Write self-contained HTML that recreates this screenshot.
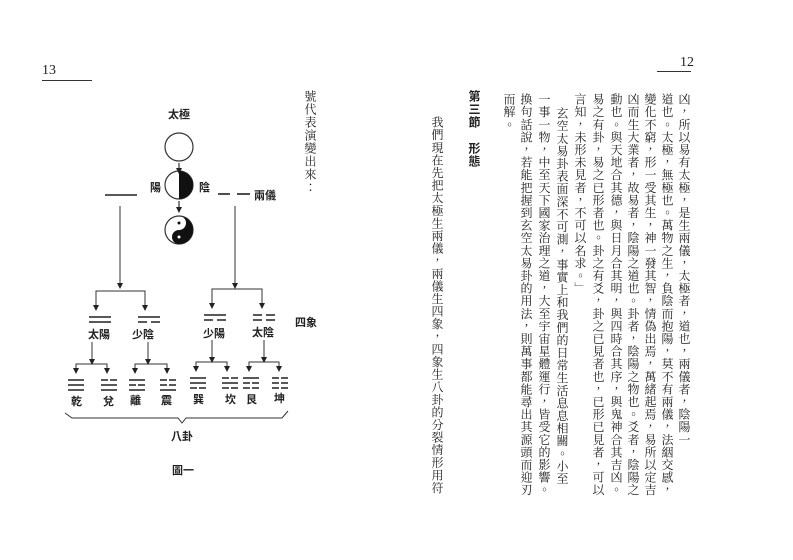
<!DOCTYPE html>
<html><head><meta charset="utf-8"><style>
body{margin:0;width:793px;height:560px;background:#fff;position:relative;overflow:hidden;font-family:"Liberation Serif","Noto Serif CJK TC","Noto Sans CJK TC",serif;color:#222}
.c{position:absolute;writing-mode:vertical-rl;font-size:12px;letter-spacing:0.6px;line-height:14px;white-space:nowrap}
.t{font-family:"Liberation Sans","Noto Sans CJK TC",sans-serif;font-weight:bold;font-size:11px}
</style></head><body>
<div style="position:absolute;left:42px;top:63px;font-size:14px">13</div>
<div style="position:absolute;left:42px;top:80px;width:50px;border-top:1px solid #333"></div>
<div style="position:absolute;left:680px;top:55px;font-size:14px">12</div>
<div style="position:absolute;left:657px;top:71px;width:34px;border-top:1px solid #333"></div>

<div class="c" style="left:303px;top:90px;font-size:12px;letter-spacing:1px">號代表演變出來：</div>

<div class="c" style="left:677px;top:93px">凶，所以易有太極，是生兩儀，太極者，道也，兩儀者，陰陽一</div>
<div class="c" style="left:660px;top:93px">道也。太極，無極也。萬物之生，負陰而抱陽，莫不有兩儀，法絪交感，</div>
<div class="c" style="left:643px;top:93px">變化不窮，形一受其生，神一發其智，情偽出焉，萬緒起焉，易所以定吉</div>
<div class="c" style="left:626px;top:93px">凶而生大業者，故易者，陰陽之道也。卦者，陰陽之物也。爻者，陰陽之</div>
<div class="c" style="left:609px;top:93px">動也。與天地合其德，與日月合其明，與四時合其序，與鬼神合其吉凶。</div>
<div class="c" style="left:591px;top:93px">易之有卦，易之已形者也。卦之有爻，卦之已見者也，已形已見者，可以</div>
<div class="c" style="left:573px;top:93px">言知，未形未見者，不可以名求。」</div>
<div class="c" style="left:555px;top:107px">玄空太易卦表面深不可測，事實上和我們的日常生活息息相關。小至</div>
<div class="c" style="left:537px;top:93px">一事一物，中至天下國家治理之道，大至宇宙星體運行，皆受它的影響。</div>
<div class="c" style="left:519px;top:93px">換句話說，若能把握到玄空太易卦的用法，則萬事都能尋出其源頭而迎刃</div>
<div class="c" style="left:502px;top:93px">而解。</div>
<div class="c" style="left:467px;top:90px;font-weight:bold;font-family:'Liberation Sans','Noto Sans CJK TC',sans-serif;letter-spacing:1px">第三節　形態</div>
<div class="c" style="left:430px;top:116px">我們現在先把太極生兩儀，兩儀生四象，四象生八卦的分裂情形用符</div>

<svg width="793" height="560" style="position:absolute;left:0;top:0" xmlns="http://www.w3.org/2000/svg">
<defs><marker id="a" markerWidth="6" markerHeight="6" refX="3" refY="5" orient="0" markerUnits="userSpaceOnUse"><path d="M0,0 L6,0 L3,6 z" fill="#222"/></marker></defs>
<g stroke="#333" fill="none" stroke-width="1.2">
<circle cx="179" cy="147" r="14"/>
<line x1="179" y1="163" x2="179" y2="173" marker-end="url(#a)"/>
<circle cx="179" cy="185" r="14"/>
<line x1="179" y1="201" x2="179" y2="212" marker-end="url(#a)"/>
<circle cx="179" cy="230" r="14"/>
</g>
<path d="M179,171 A14,14 0 0 1 179,199 Z" fill="#111"/>
<path d="M179,216 A14,14 0 0 1 179,244 A7,7 0 0 1 179,230 A7,7 0 0 0 179,216 Z" fill="#111"/>
<circle cx="179" cy="223" r="1.5" fill="#111"/><circle cx="179" cy="237" r="1.5" fill="#fff"/>
<g stroke="#222" stroke-width="1.6" fill="none">
<line x1="105" y1="195" x2="137" y2="195"/>
<line x1="218" y1="194" x2="230" y2="194"/><line x1="237" y1="194" x2="250" y2="194"/>
</g>
<g stroke="#333" stroke-width="1" fill="none">
<line x1="120" y1="206" x2="120" y2="288" marker-end="url(#a)"/>
<line x1="235" y1="206" x2="235" y2="288" marker-end="url(#a)"/>
<path d="M96,310 V291 H145 V310"/><line x1="96" y1="305" x2="96" y2="310" marker-end="url(#a)"/><line x1="145" y1="305" x2="145" y2="310" marker-end="url(#a)"/>
<path d="M212,308 V289 H262 V308"/><line x1="212" y1="303" x2="212" y2="308" marker-end="url(#a)"/><line x1="262" y1="303" x2="262" y2="308" marker-end="url(#a)"/>
<line x1="92" y1="342" x2="92" y2="364" marker-end="url(#a)"/><path d="M76,371 V364 H107 V371"/>
<line x1="148" y1="342" x2="148" y2="364" marker-end="url(#a)"/><path d="M135,371 V364 H167 V371"/>
<line x1="212" y1="340" x2="212" y2="362" marker-end="url(#a)"/><path d="M196,369 V362 H227 V369"/>
<line x1="264" y1="340" x2="264" y2="362" marker-end="url(#a)"/><path d="M249,369 V362 H279 V369"/>
<line x1="76" y1="367" x2="76" y2="373" marker-end="url(#a)"/><line x1="107" y1="367" x2="107" y2="373" marker-end="url(#a)"/>
<line x1="135" y1="367" x2="135" y2="373" marker-end="url(#a)"/><line x1="167" y1="367" x2="167" y2="373" marker-end="url(#a)"/>
<line x1="196" y1="365" x2="196" y2="371" marker-end="url(#a)"/><line x1="227" y1="365" x2="227" y2="371" marker-end="url(#a)"/>
<line x1="249" y1="365" x2="249" y2="371" marker-end="url(#a)"/><line x1="279" y1="365" x2="279" y2="371" marker-end="url(#a)"/>
<path d="M65,413 L72,418 H178 L182,423 L186,418 H282 L288,411"/>
</g>
<g stroke="#222" stroke-width="1.6">
<path d="M89,317h22M89,322h22"/>
<path d="M138,317h22M138,322h9M151,322h9"/>
<path d="M204,315h22M204,320h9M217,320h9"/>
<path d="M253,315h9M266,315h9M253,320h9M266,320h9"/>
<path d="M68,380h16M68,385h16M68,390h16"/>
<path d="M101,380h7M110,380h7M101,385h16M101,390h16"/>
<path d="M129,380h16M129,385h7M138,385h7M129,390h16"/>
<path d="M160,380h7M169,380h7M160,385h7M169,385h7M160,390h16"/>
<path d="M190,378h16M190,383h16M190,388h7M199,388h7"/>
<path d="M222,378h7M231,378h7M222,383h16M222,388h7M231,388h7"/>
<path d="M243,378h16M243,383h7M252,383h7M243,388h7M252,388h7"/>
<path d="M272,378h7M281,378h7M272,383h7M281,383h7M272,388h7M281,388h7"/>
</g>
</svg>
<div class="t" style="position:absolute;left:168px;top:106px">太極</div>
<div class="t" style="position:absolute;left:150px;top:179px">陽</div>
<div class="t" style="position:absolute;left:199px;top:179px">陰</div>
<div class="t" style="position:absolute;left:254px;top:187px">兩儀</div>
<div class="t" style="position:absolute;left:88px;top:326px">太陽</div>
<div class="t" style="position:absolute;left:132px;top:326px">少陰</div>
<div class="t" style="position:absolute;left:203px;top:325px">少陽</div>
<div class="t" style="position:absolute;left:252px;top:324px">太陰</div>
<div class="t" style="position:absolute;left:295px;top:314px">四象</div>
<div class="t" style="position:absolute;left:71px;top:393px">乾</div>
<div class="t" style="position:absolute;left:103px;top:393px">兌</div>
<div class="t" style="position:absolute;left:130px;top:392px">離</div>
<div class="t" style="position:absolute;left:161px;top:392px">震</div>
<div class="t" style="position:absolute;left:193px;top:391px">巽</div>
<div class="t" style="position:absolute;left:225px;top:391px">坎</div>
<div class="t" style="position:absolute;left:246px;top:391px">艮</div>
<div class="t" style="position:absolute;left:274px;top:390px">坤</div>
<div class="t" style="position:absolute;left:171px;top:428px">八卦</div>
<div class="t" style="position:absolute;left:172px;top:462px">圖一</div>
</body></html>
